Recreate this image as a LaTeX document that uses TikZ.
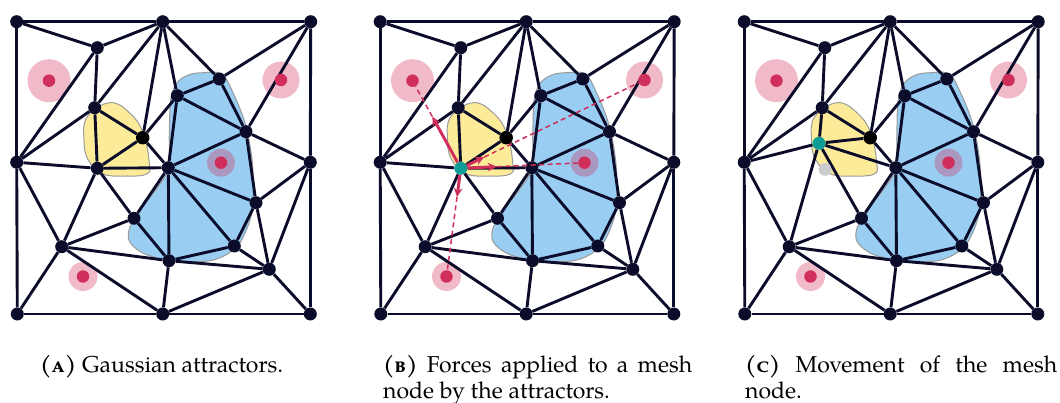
\documentclass[tikz,border=0pt]{standalone}
\usepackage{fontspec}
\setmainfont{TeX Gyre Pagella}
\usetikzlibrary{calc,arrows.meta}
\definecolor{meshc}{HTML}{0B0B2A}
\definecolor{crim}{HTML}{D12F5B}
\definecolor{bluef}{HTML}{99CDF2}
\definecolor{yellowf}{HTML}{FCEC9A}
\definecolor{blobc}{HTML}{9A9A9A}
\definecolor{tealc}{HTML}{0E9C96}
\definecolor{ghostc}{HTML}{CCCCCC}
\tikzset{
  mesh/.style={draw=meshc, line width=2.9pt},
  vtx/.style={circle, fill=meshc, inner sep=0pt, minimum size=13pt},
  blackvtx/.style={circle, fill=black, inner sep=0pt, minimum size=13.5pt},
  tealvtx/.style={circle, fill=tealc, inner sep=0pt, minimum size=13pt},
  ghostvtx/.style={circle, fill=ghostc, inner sep=0pt, minimum size=13pt},
  halo/.style={circle, fill=crim, fill opacity=0.33, inner sep=0pt},
  attr/.style={circle, fill=crim, inner sep=0pt, minimum size=12.5pt},
  blobline/.style={draw=blobc, line width=1pt},
  force/.style={draw=crim, line width=3pt, -{Stealth[length=9pt,width=8.5pt]}},
  trail/.style={draw=crim, line width=1.5pt, dash pattern=on 5pt off 3.5pt},
  captxt/.style={anchor=base west, inner sep=0pt}
}
\newcommand{\meshpanel}[4]{%
  \begin{scope}[shift={(#2,0)}]
    \filldraw[fill=yellowf, blobline] plot[smooth cycle, tension=0.7] coordinates {
      (110,102.7) (130,113.3) (143.3,133.3) (149.3,163.3) (146.7,174) (126.7,176)
      (103.3,174) (88.3,160) (84,140) (87.3,116.7)};
    \filldraw[fill=bluef, blobline] plot[smooth cycle, tension=0.6] coordinates {
      (203.3,72.7) (221.7,74) (233.3,93.3) (245,123.3) (251.7,156.7) (253.3,186.7)
      (251.7,213.3) (243.3,236.7) (233.3,250) (213.3,260) (186.7,261.7) (163.3,259.3)
      (143.3,253.3) (130.7,243.3) (128.3,233.3) (131.7,223.3) (140,210) (156.7,188.3)
      (168.3,168.3) (169.3,133.3) (170.7,100) (176.7,83.3) (188.3,75)};
    \node[halo, minimum size=43pt] (#1h1) at (49,80.7) {};
    \node[halo, minimum size=37pt] (#1h2) at (281,80) {};
    \node[halo, minimum size=28pt] (#1h3) at (221,162.7) {};
    \node[halo, minimum size=29pt] (#1h4) at (83,276.5) {};
    \node[vtx] (#1tl) at (16.7,21.7) {};
    \node[vtx] (#1tm) at (162.7,21.7) {};
    \node[vtx] (#1tr) at (310.7,21.7) {};
    \node[vtx] (#1lm) at (16.7,162.3) {};
    \node[vtx] (#1rm) at (310.3,162.3) {};
    \node[vtx] (#1bl) at (17.3,314) {};
    \node[vtx] (#1bm) at (162.7,314) {};
    \node[vtx] (#1br) at (310.3,314) {};
    \node[vtx] (#1p1) at (97.3,47.7) {};
    \node[vtx] (#1p2) at (94.7,107.7) {};
    \node[blackvtx] (#1p3) at (142.7,137.7) {};
    \node[#3] (#1p4) at #4 {};
    \node[vtx] (#1p5) at (168.3,167.7) {};
    \node[vtx] (#1p6) at (177.3,95.7) {};
    \node[vtx] (#1p7) at (219.3,79) {};
    \node[vtx] (#1p8) at (246,131.7) {};
    \node[vtx] (#1p9) at (256,202.7) {};
    \node[vtx] (#1p10) at (134,218.3) {};
    \node[vtx] (#1p11) at (61.7,246.7) {};
    \node[vtx] (#1p12) at (234.3,246) {};
    \node[vtx] (#1p13) at (169,260.7) {};
    \node[vtx] (#1p14) at (269.3,269.3) {};
    \foreach \u/\v in {tl/tm, tm/tr, tr/rm, rm/br, br/bm, bm/bl, bl/lm, lm/tl,
      tl/p1, p1/tm, p1/lm, p1/p2, tm/p2, tm/p3, tm/p6, tm/p7, tr/p7, tr/p8,
      p2/lm, p2/p3, p2/p4, p3/p4, p3/p6, p3/p5, p4/p5, lm/p4,
      p6/p5, p6/p7, p6/p8, p7/p8, p5/p8, p8/rm, p8/p9, p5/p9, p5/p12, p5/p13, p5/p10,
      p4/p10, p4/p11, lm/p11, p10/p11, p10/p13, p11/p13, p11/bl, p11/bm, p13/bm,
      p13/p12, p13/p14, p12/p14, p12/p9, p9/p14, p9/rm, rm/p14, p14/br, p14/bm}
      {\draw[mesh] (#1\u) -- (#1\v);}
    \node[attr] (#1a1) at (#1h1) {};
    \node[attr] (#1a2) at (#1h2) {};
    \node[attr] (#1a3) at (#1h3) {};
    \node[attr] (#1a4) at (#1h4) {};
  \end{scope}}
\begin{document}
\begin{tikzpicture}[x=1pt, y=-1pt, font=\fontsize{23}{26}\selectfont]
  \useasboundingbox (0,0) rectangle (1060,403);
  \meshpanel{a}{0}{vtx}{(97.3,168.3)}
  \meshpanel{b}{363.5}{tealvtx}{(97.3,168.3)}
  \meshpanel{c}{727.5}{tealvtx}{(91.5,143.3)}
  % forces in panel B
  \coordinate (bt1) at ($(bp4)!59pt!(ba1)$);
  \coordinate (bt2) at ($(bp4)!26pt!(ba2)$);
  \coordinate (bt3) at ($(bp4)!36pt!(ba3)$);
  \coordinate (bt4) at ($(bp4)!29pt!(ba4)$);
  \draw[trail] (bt1) -- (ba1);
  \draw[trail] (bt2) -- (ba2);
  \draw[trail] (bt3) -- (ba3);
  \draw[trail] (bt4) -- (ba4);
  \draw[force] (bp4) -- (bt1);
  \draw[force] (bp4) -- (bt2);
  \draw[force] (bp4) -- (bt3);
  \draw[force] (bp4) -- (bt4);
  % old position in panel C
  \node[ghostvtx] (cold) at (825,169.3) {};
  % captions
  \node[captxt] (capa) at (40,372) {{\bfseries\scshape (a)} Gaussian attractors.};
  \node[captxt] (capb) at (383,372) {\parbox[t]{309pt}{{\bfseries\scshape (b)} Forces applied to a mesh\linebreak node by the attractors.}};
  \node[captxt] (capc) at (745,372) {\parbox[t]{312pt}{{\bfseries\scshape (c)} Movement of the mesh\linebreak node.}};
\end{tikzpicture}
\end{document}
